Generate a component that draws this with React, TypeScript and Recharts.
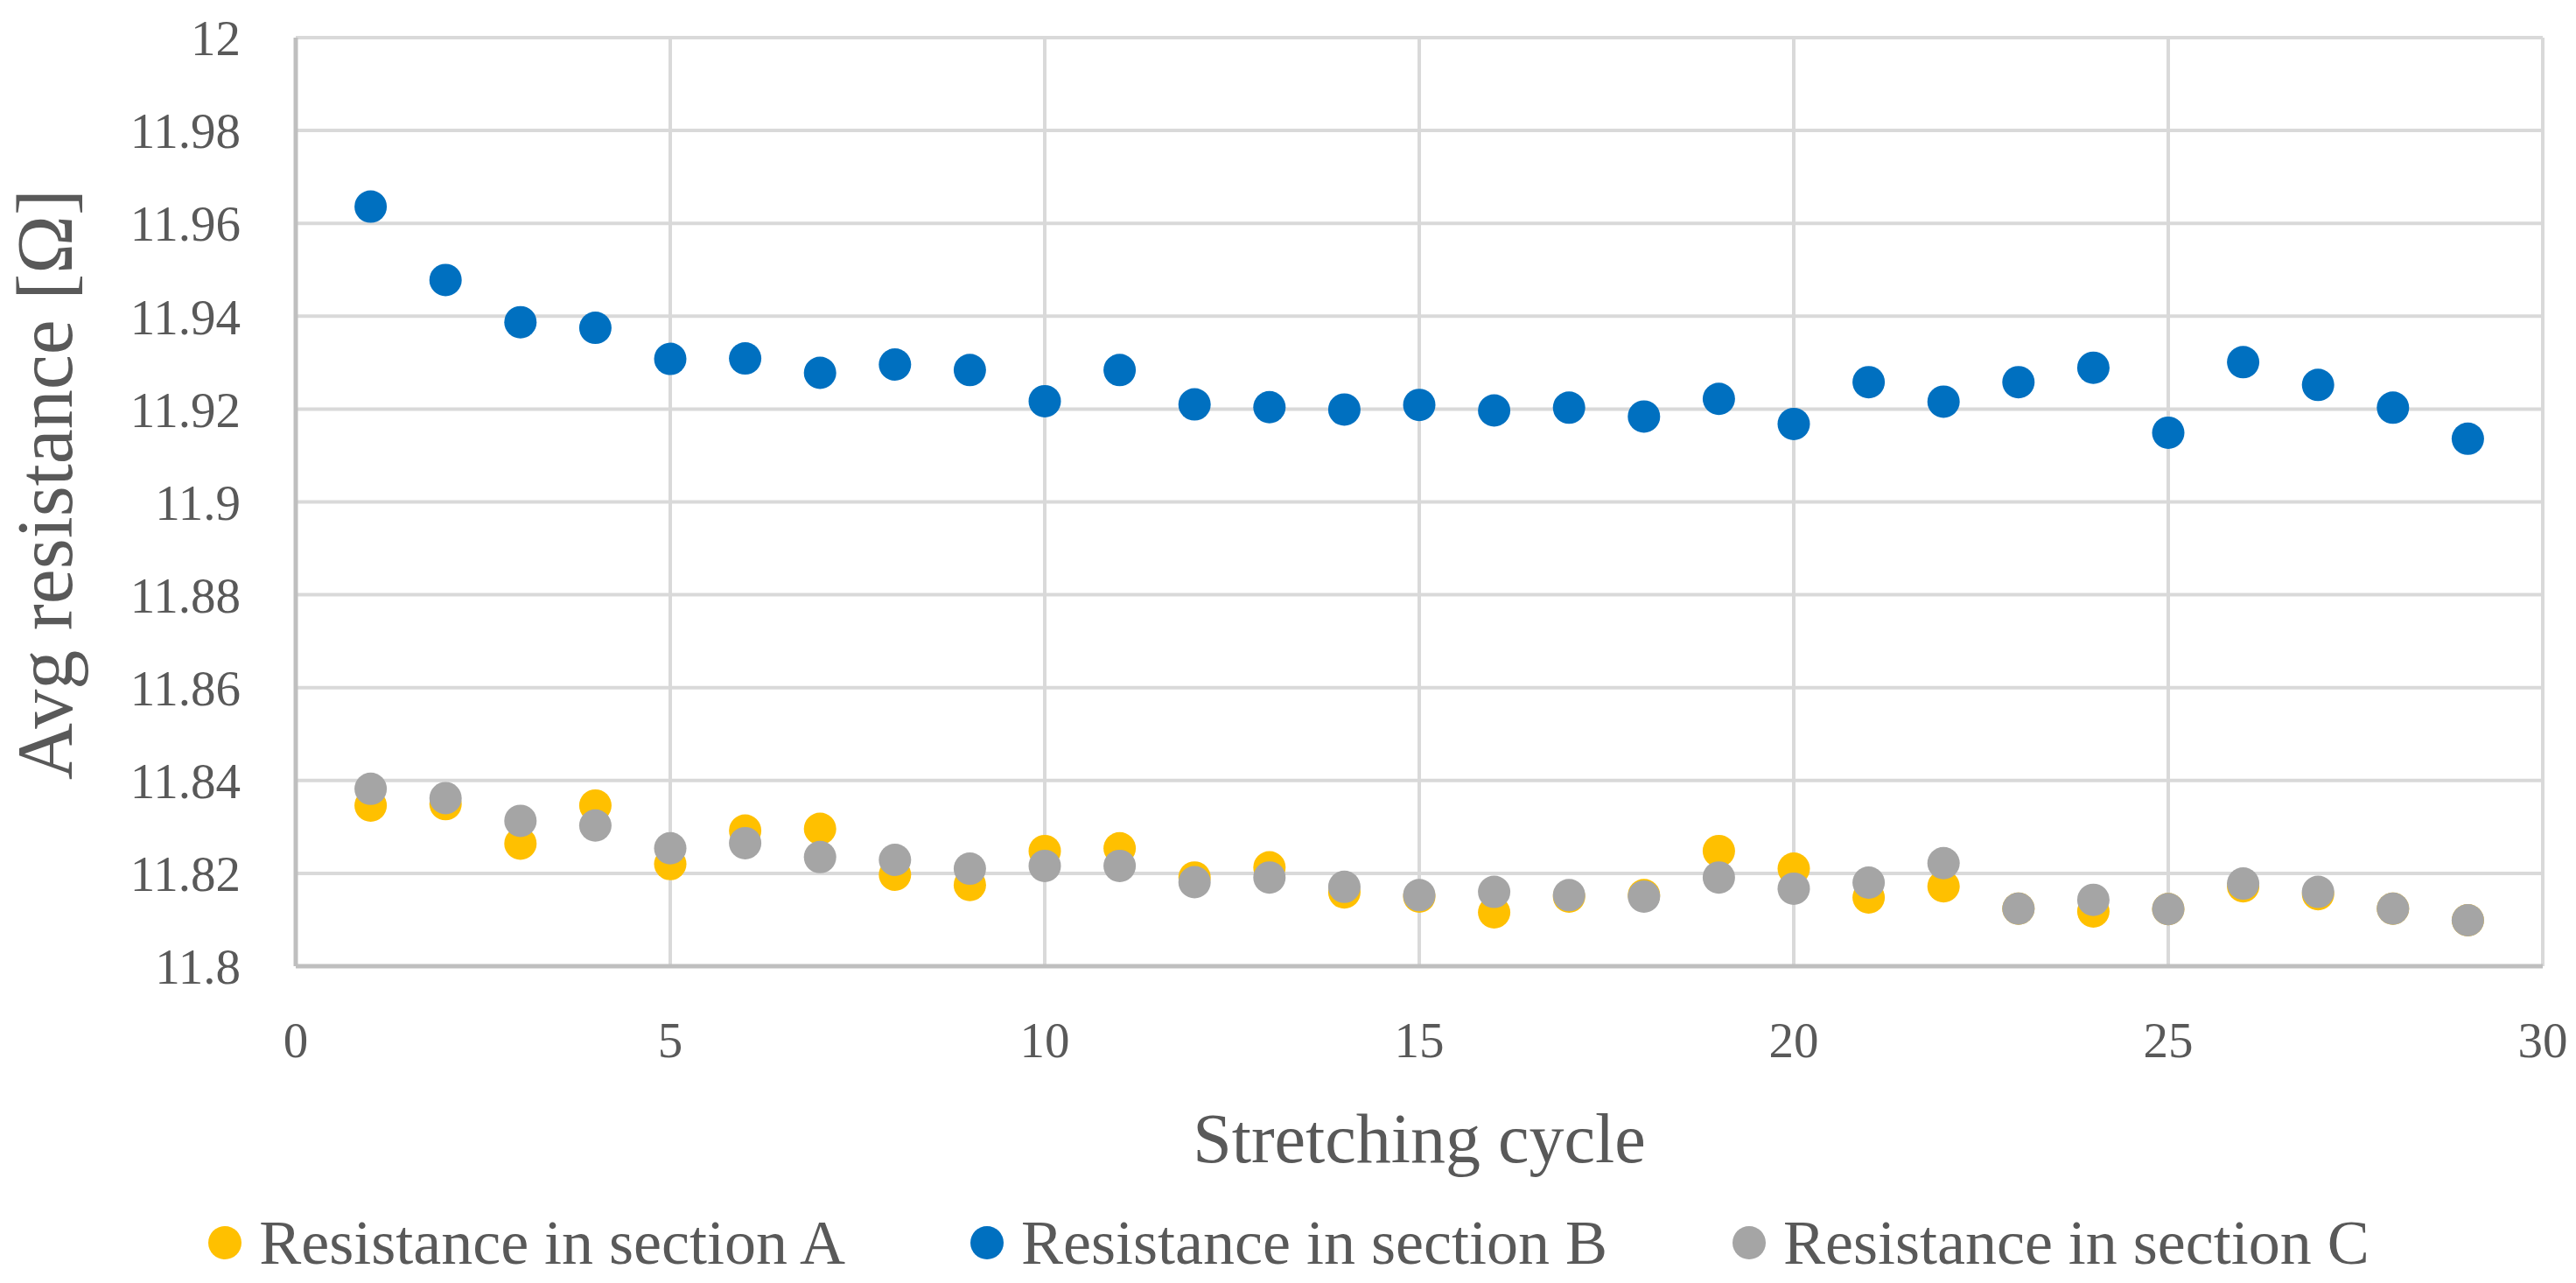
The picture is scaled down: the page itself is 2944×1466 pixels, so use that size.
import React from 'react';
import { ScatterChart, Scatter, XAxis, YAxis, CartesianGrid, Legend } from 'recharts';

const cycles = [1,2,3,4,5,6,7,8,9,10,11,12,13,14,15,16,17,18,19,20,21,22,23,24,25,26,27,28,29];
const sectionA = [11.8346, 11.8349, 11.8264, 11.8346, 11.822, 11.8292, 11.8296, 11.8197, 11.8175, 11.8248, 11.8254, 11.8191, 11.8213, 11.8159, 11.815, 11.8116, 11.815, 11.8153, 11.8248, 11.821, 11.8148, 11.8172, 11.8124, 11.8118, 11.8123, 11.8172, 11.8155, 11.8124, 11.8099];
const sectionB = [11.9636, 11.9478, 11.9387, 11.9375, 11.9308, 11.9309, 11.9278, 11.9296, 11.9284, 11.9217, 11.9284, 11.921, 11.9204, 11.9199, 11.9209, 11.9197, 11.9203, 11.9184, 11.9222, 11.9168, 11.9258, 11.9216, 11.9258, 11.9289, 11.9149, 11.9301, 11.9252, 11.9203, 11.9136];
const sectionC = [11.8382, 11.8362, 11.8313, 11.8303, 11.8254, 11.8265, 11.8235, 11.8229, 11.821, 11.8216, 11.8216, 11.8181, 11.8191, 11.8171, 11.8153, 11.816, 11.8153, 11.815, 11.8191, 11.8167, 11.818, 11.8222, 11.8124, 11.8143, 11.8123, 11.8178, 11.816, 11.8124, 11.8099];

const seriesNames = ['Resistance in section A', 'Resistance in section B', 'Resistance in section C'];
const seriesColors = ['#FFC000', '#0070C0', '#A5A5A5'];

const xTicks = [0, 5, 10, 15, 20, 25, 30];
const yTicks = [11.8, 11.82, 11.84, 11.86, 11.88, 11.9, 11.92, 11.94, 11.96, 11.98, 12];
const yTickLabels = ['11.8', '11.82', '11.84', '11.86', '11.88', '11.9', '11.92', '11.94', '11.96', '11.98', '12'];

const xTitle = 'Stretching cycle';
const yTitle = 'Avg resistance [Ω]';

const FONT = '"Liberation Serif", "Times New Roman", serif';
const TEXT = '#595959';

const toPoints = (vals: number[]) => cycles.map((c, i) => ({ x: c, y: vals[i] }));
const seriesData = [toPoints(sectionA), toPoints(sectionB), toPoints(sectionC)];

const makeDot = (color: string) => (props: any) => (
  <circle cx={props.cx} cy={props.cy} r={18.5} fill={color} />
);

const LegendContent = () => (
  <div
    style={{
      display: 'flex',
      justifyContent: 'center',
      alignItems: 'center',
      height: 92,
      lineHeight: '92px',
      paddingLeft: 40,
      fontFamily: FONT,
      fontSize: 72,
      color: TEXT,
      whiteSpace: 'nowrap',
    }}
  >
    {seriesNames.map((name, i) => (
      <div key={name} style={{ display: 'flex', alignItems: 'center', marginLeft: i === 0 ? 0 : 143 }}>
        <svg width={38} height={38} style={{ marginRight: 20 }}>
          <circle cx={19} cy={19} r={19} fill={seriesColors[i]} />
        </svg>
        <span>{name}</span>
      </div>
    ))}
  </div>
);

export default function App() {
  return (
    <div style={{ position: 'absolute', left: 0, top: 0, width: 2944, height: 1466, background: '#fff' }}>
      <ScatterChart width={2944} height={1466} margin={{ top: 43, right: 38, left: 0, bottom: 0 }}>
        <CartesianGrid stroke="#D9D9D9" strokeWidth={4} horizontalValues={yTicks} verticalValues={xTicks} />
        <XAxis
          type="number"
          dataKey="x"
          domain={[0, 30]}
          ticks={xTicks}
          interval={0}
          height={270}
          tickLine={false}
          tickSize={0}
          tickMargin={64}
          axisLine={{ stroke: '#BFBFBF', strokeWidth: 5 }}
          tick={{ fill: TEXT, fontSize: 57, fontFamily: FONT }}
          label={(p: any) => {
            const vb = p.viewBox;
            return (
              <text x={vb.x + vb.width / 2} y={vb.y + 224} textAnchor="middle" fill={TEXT} fontSize={80} fontFamily={FONT}>
                {xTitle}
              </text>
            );
          }}
        />
        <YAxis
          type="number"
          dataKey="y"
          domain={[11.8, 12]}
          ticks={yTicks}
          interval={0}
          width={338}
          tickLine={false}
          tickSize={0}
          tickMargin={63}
          axisLine={{ stroke: '#BFBFBF', strokeWidth: 5 }}
          tick={{ fill: TEXT, fontSize: 57, fontFamily: FONT }}
          tickFormatter={(v: number) => {
            const idx = yTicks.findIndex((t) => Math.abs(t - v) < 1e-6);
            return idx >= 0 ? yTickLabels[idx] : String(v);
          }}
          label={(p: any) => {
            const vb = p.viewBox;
            const cx = 82;
            const cy = vb.y + vb.height / 2 - 20;
            return (
              <text x={cx} y={cy} transform={`rotate(-90, ${cx}, ${cy})`} textAnchor="middle" fill={TEXT} fontSize={90} fontFamily={FONT}>
                {yTitle}
              </text>
            );
          }}
        />
        <Legend verticalAlign="bottom" wrapperStyle={{ height: 92 }} content={LegendContent} />
        {seriesData.map((d, i) => (
          <Scatter
            key={seriesNames[i]}
            name={seriesNames[i]}
            data={d}
            fill={seriesColors[i]}
            shape={makeDot(seriesColors[i])}
            isAnimationActive={false}
          />
        ))}
      </ScatterChart>
    </div>
  );
}
